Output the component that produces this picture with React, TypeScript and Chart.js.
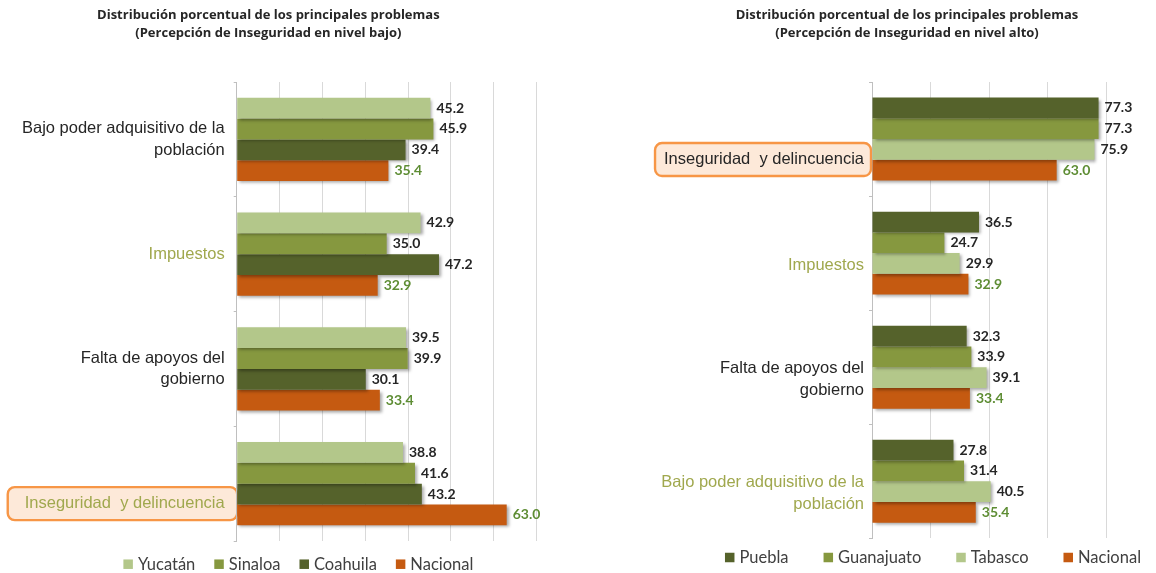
import React, { useEffect, useRef } from "react";
import { Chart, registerables } from "chart.js";

Chart.register(...registerables);

// ---------- data ----------
const leftTitle = ["Distribución porcentual de los principales problemas", "(Percepción de Inseguridad en nivel bajo)"];
const leftCategories = [
  ["Bajo poder adquisitivo de la", "población"],
  ["Impuestos"],
  ["Falta de apoyos del", "gobierno"],
  ["", "Inseguridad  y delincuencia"],
];
const leftSeriesNames = ["Yucatán", "Sinaloa", "Coahuila", "Nacional"];
const yucatan = [45.2, 42.9, 39.5, 38.8];
const sinaloa = [45.9, 35.0, 39.9, 41.6];
const coahuila = [39.4, 47.2, 30.1, 43.2];
const nacionalLeft = [35.4, 32.9, 33.4, 63.0];
const leftAxis = { max: 70, step: 10 };

const rightTitle = ["Distribución porcentual de los principales problemas", "(Percepción de Inseguridad en nivel alto)"];
const rightCategories = [
  ["", "Inseguridad  y delincuencia"],
  ["Impuestos"],
  ["Falta de apoyos del", "gobierno"],
  ["Bajo poder adquisitivo de la", "población"],
];
const rightSeriesNames = ["Puebla", "Guanajuato", "Tabasco", "Nacional"];
const puebla = [77.3, 36.5, 32.3, 27.8];
const guanajuato = [77.3, 24.7, 33.9, 31.4];
const tabasco = [75.9, 29.9, 39.1, 40.5];
const nacionalRight = [63.0, 32.9, 33.4, 35.4];
const rightAxis = { max: 80, step: 20 };

// ---------- styles ----------
const LIGHT = "#b3c78a";
const MID = "#86983f";
const DARK = "#55622b";
const ORANGE = "#c55a11";
const OLIVE = "#a0a84e";
const TEXT = "#262626";
const NAC_LABEL = "#5e8d34";
const TICK_FONT_FAMILY = '"Liberation Sans", Arial, sans-serif';
const TICK_FONT_SIZE = 16.5;
const TICK_LINE = 1.3;
const TICK_LEN = 3;

type Spec = {
  title: string[];
  categories: string[][];
  names: string[];
  values: number[][];
  colors: string[];
  valueColors: string[];
  max: number;
  step: number;
  padLeft: number;
  padRight: number;
  padBottom: number;
  axisWidth: number;
  tickPadding: number;
  labelOffset: number;
  highlightLine: number;
  labelColors: string[];
  highlight: number;
  boxPad: { l: number; r: number; h: number };
  legend: { cx: number; cy: number; gap: number };
};

const leftSpec: Spec = {
  title: leftTitle,
  categories: leftCategories,
  names: leftSeriesNames,
  values: [yucatan, sinaloa, coahuila, nacionalLeft],
  colors: [LIGHT, MID, DARK, ORANGE],
  valueColors: [TEXT, TEXT, TEXT, NAC_LABEL],
  max: leftAxis.max,
  step: leftAxis.step,
  padLeft: 0,
  padRight: 41.3,
  padBottom: 32,
  axisWidth: 236.7,
  tickPadding: 9,
  labelOffset: 0,
  highlightLine: 39,
  labelColors: [TEXT, OLIVE, TEXT, OLIVE],
  highlight: 3,
  boxPad: { l: 17, r: 12.5, h: 33 },
  legend: { cx: 298.4, cy: 564.2, gap: 19 },
};

const rightSpec: Spec = {
  title: rightTitle,
  categories: rightCategories,
  names: rightSeriesNames,
  values: [puebla, guanajuato, tabasco, nacionalRight],
  colors: [DARK, MID, LIGHT, ORANGE],
  valueColors: [TEXT, TEXT, TEXT, NAC_LABEL],
  max: rightAxis.max,
  step: rightAxis.step,
  padLeft: 129.5,
  padRight: 49.5,
  padBottom: 34.7,
  axisWidth: 164.5,
  tickPadding: 5,
  labelOffset: 12.3,
  highlightLine: 15.4,
  labelColors: [TEXT, OLIVE, TEXT, OLIVE],
  highlight: 0,
  boxPad: { l: 9, r: 7, h: 33 },
  legend: { cx: 355, cy: 557.5, gap: 35 },
};

function makePlugin(spec: Spec) {
  return {
    id: "decor",
    afterLayout(chart: any) {
      // let the category labels extend past the layout padding (no clipping)
      chart.scales.y.left = 0;
    },
    beforeDraw(chart: any) {
      const ctx = chart.ctx;
      const y = chart.scales.y;
      const i = spec.highlight;
      const pixel = y.getPixelForTick(i) + spec.labelOffset + spec.highlightLine / 2;
      ctx.save();
      ctx.font = `${TICK_FONT_SIZE}px ${TICK_FONT_FAMILY}`;
      const lines = spec.categories[i];
      let w = 0;
      lines.forEach((l) => (w = Math.max(w, ctx.measureText(l).width)));
      const textRight = chart.chartArea.left - TICK_LEN - spec.tickPadding;
      const x0 = textRight - w - spec.boxPad.l;
      const x1 = textRight + spec.boxPad.r;
      const h = spec.boxPad.h;
      ctx.beginPath();
      ctx.roundRect(x0, pixel - h / 2 + 0.5, x1 - x0, h, 7);
      ctx.fillStyle = "#fde9d9";
      ctx.fill();
      ctx.lineWidth = 2.4;
      ctx.strokeStyle = "#f79646";
      ctx.stroke();
      ctx.restore();
    },
    beforeDatasetsDraw(chart: any) {
      const ctx = chart.ctx;
      ctx.save();
      ctx.shadowColor = "rgba(0,0,0,0.35)";
      ctx.shadowBlur = 3;
      ctx.shadowOffsetX = 2;
      ctx.shadowOffsetY = 2;
    },
    afterDatasetsDraw(chart: any) {
      const ctx = chart.ctx;
      ctx.restore();
      ctx.save();
      ctx.font = "bold 14px Lato, sans-serif";
      ctx.textBaseline = "middle";
      ctx.textAlign = "left";
      chart.data.datasets.forEach((ds: any, di: number) => {
        const meta = chart.getDatasetMeta(di);
        ctx.fillStyle = spec.valueColors[di];
        meta.data.forEach((el: any, j: number) => {
          ctx.fillText(Number(ds.data[j]).toFixed(1), el.x + 6, el.y);
        });
      });
      ctx.restore();
    },
    afterDraw(chart: any) {
      const ctx = chart.ctx;
      ctx.save();
      ctx.font = "16.5px Lato, sans-serif";
      ctx.textBaseline = "middle";
      ctx.textAlign = "left";
      const box = 9.5;
      const sep = 5;
      const items = chart.data.datasets.map((ds: any) => ({
        label: ds.label,
        color: ds.backgroundColor,
        w: box + sep + ctx.measureText(ds.label).width,
      }));
      const total = items.reduce((a: number, it: any) => a + it.w, 0) + spec.legend.gap * (items.length - 1);
      let x = spec.legend.cx - total / 2;
      const cy = spec.legend.cy;
      items.forEach((it: any) => {
        ctx.fillStyle = it.color;
        ctx.fillRect(x, cy - box / 2, box, box);
        ctx.fillStyle = "#404040";
        ctx.fillText(it.label, x + box + sep, cy + 0.5);
        x += it.w + spec.legend.gap;
      });
      ctx.restore();
    },
  };
}

function buildConfig(spec: Spec): any {
  return {
    type: "bar",
    data: {
      labels: spec.categories,
      datasets: spec.names.map((name, i) => ({
        label: name,
        data: spec.values[i],
        backgroundColor: spec.colors[i],
        borderWidth: 0,
        barPercentage: 1,
        categoryPercentage: 0.727,
      })),
    },
    options: {
      indexAxis: "y",
      animation: false,
      responsive: false,
      maintainAspectRatio: false,
      events: [],
      layout: { padding: { left: spec.padLeft, right: spec.padRight, top: 0, bottom: spec.padBottom } },
      scales: {
        x: {
          min: 0,
          max: spec.max,
          ticks: { display: false, stepSize: spec.step },
          grid: { color: "#d9d9d9", drawTicks: false, lineWidth: 1 },
          border: { display: false },
          afterFit: (s: any) => {
            s.height = 0;
          },
        },
        y: {
          grid: { display: true, drawOnChartArea: false, drawTicks: true, tickLength: TICK_LEN, color: "#bfbfbf", offset: true },
          border: { display: true, color: "#bfbfbf", width: 1 },
          ticks: {
            autoSkip: false,
            padding: spec.tickPadding,
            labelOffset: spec.labelOffset,
            font: (c: any) => ({
              family: TICK_FONT_FAMILY,
              size: TICK_FONT_SIZE,
              lineHeight: c.index === spec.highlight ? spec.highlightLine / TICK_FONT_SIZE : TICK_LINE,
            }),
            color: (c: any) => spec.labelColors[c.index] ?? TEXT,
          },
          afterFit: (s: any) => {
            s.width = spec.axisWidth;
          },
        },
      },
      plugins: {
        legend: { display: false },
        tooltip: { enabled: false },
        title: {
          display: true,
          text: spec.title,
          color: TEXT,
          font: { family: '"Open Sans", sans-serif', weight: "bold", size: 13, lineHeight: 18 / 13 },
          padding: { top: 6, bottom: 40 },
        },
      },
    },
    plugins: [makePlugin(spec)],
  };
}

function ChartPanel({ spec }: { spec: Spec }) {
  const ref = useRef<HTMLCanvasElement>(null);
  useEffect(() => {
    if (!ref.current) return;
    const chart = new Chart(ref.current, buildConfig(spec));
    return () => chart.destroy();
  }, [spec]);
  return <canvas ref={ref} width={578} height={573} style={{ display: "block", width: 578, height: 573 }} />;
}

export default function App() {
  return (
    <div style={{ position: "absolute", left: 0, top: 0, width: 1156, height: 573, display: "flex", background: "#ffffff" }}>
      <ChartPanel spec={leftSpec} />
      <ChartPanel spec={rightSpec} />
    </div>
  );
}
